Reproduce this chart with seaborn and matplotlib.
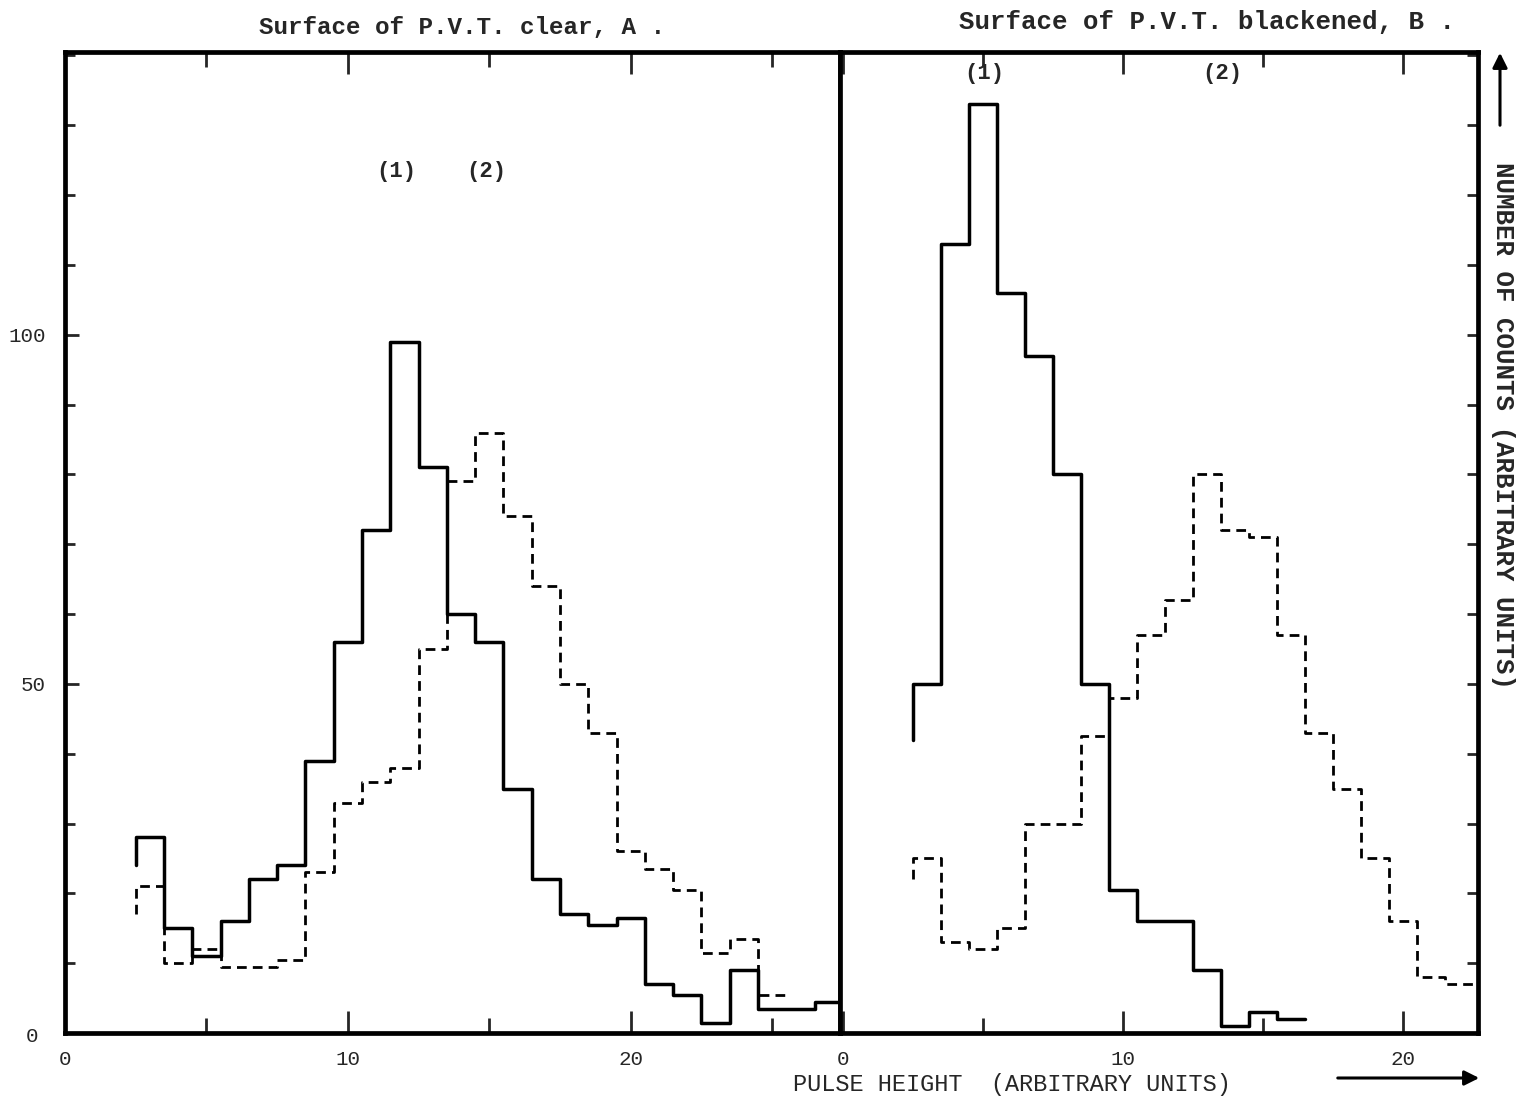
import numpy as np
import pandas as pd
import matplotlib
matplotlib.use("Agg")
import matplotlib.pyplot as plt
from matplotlib.ticker import MultipleLocator, FixedLocator
import seaborn as sns

# ---- pulse-height spectra (counts per unit bin, bins centred on integers) ----
clear_bins_1 = list(range(3, 28))
clear_counts_1 = [28, 15, 11, 16, 22, 24, 39, 56, 72, 99, 81, 60, 56, 35, 22,
                  17, 15.5, 16.5, 7, 5.5, 1.5, 9, 3.5, 3.5, 4.5]
clear_bins_2 = list(range(3, 26))
clear_counts_2 = [21, 10, 12, 9.5, 9.5, 10.5, 23, 33, 36, 38, 55, 79, 86, 74,
                  64, 50, 43, 26, 23.5, 20.5, 11.5, 13.5, 5.5]

black_bins_1 = list(range(3, 17))
black_counts_1 = [50, 113, 133, 106, 97, 80, 50, 20.5, 16, 16, 9, 1, 3, 2]
black_bins_2 = list(range(3, 23))
black_counts_2 = [25, 13, 12, 15, 30, 30, 42.5, 48, 57, 62, 80, 72, 71, 57,
                  43, 35, 25, 16, 8, 7]

# level at which each trace begins (short rise at the first bin edge)
clear_start_1, clear_start_2 = 24, 17
black_start_1, black_start_2 = 42, 22

x_tick_labels = ["0", "10", "20"]
y_tick_labels = ["0", "50", "100"]

W, H = 1523, 1107
sns.set_style("white")
plt.rcParams["font.family"] = ["Liberation Mono", "DejaVu Sans Mono"]
mono = ["Liberation Mono", "DejaVu Sans Mono"]


def fx(px):
    return px / W


def fy(py):
    return 1 - py / H


def step_frame(bins, counts, start):
    edges = [b - 0.5 for b in bins] + [bins[-1] + 0.5]
    xs = [edges[0]] + edges
    ys = [start] + list(counts) + [counts[-1]]
    return pd.DataFrame({"pulse": xs, "counts": ys})


fig = plt.figure(figsize=(W / 100, H / 100), dpi=100)
y0, y1 = 1033, 52
ax_a = fig.add_axes([fx(65), fy(y0), fx(840) - fx(65), fy(y1) - fy(y0)])
ax_b = fig.add_axes([fx(840), fy(y0), fx(1478) - fx(840), fy(y1) - fy(y0)])

ymax = 140.5
for ax, b1, c1, s1, b2, c2, s2 in [
    (ax_a, clear_bins_1, clear_counts_1, clear_start_1,
     clear_bins_2, clear_counts_2, clear_start_2),
    (ax_b, black_bins_1, black_counts_1, black_start_1,
     black_bins_2, black_counts_2, black_start_2),
]:
    sns.lineplot(data=step_frame(b2, c2, s2), x="pulse", y="counts", ax=ax,
                 estimator=None, sort=False, drawstyle="steps-post",
                 color="black", linewidth=2.0, linestyle=(0, (3.5, 2.2)))
    sns.lineplot(data=step_frame(b1, c1, s1), x="pulse", y="counts", ax=ax,
                 estimator=None, sort=False, drawstyle="steps-post",
                 color="black", linewidth=2.5)
    ax.set_ylim(0, ymax)
    ax.set_xlabel("")
    ax.set_ylabel("")
    for sp in ax.spines.values():
        sp.set_linewidth(3.4)
        sp.set_color("black")
    ax.xaxis.set_major_locator(FixedLocator([0, 10, 20]))
    ax.xaxis.set_minor_locator(FixedLocator([5, 15, 25]))
    ax.tick_params(axis="x", which="major", direction="in", length=16, width=2,
                   top=True, bottom=True, pad=12, labelsize=15)
    ax.tick_params(axis="x", which="minor", direction="in", length=11, width=2,
                   top=True, bottom=True)

ax_a.set_xlim(0, 27.4)
ax_b.set_xlim(-0.1, 22.68)
ax_a.set_xticklabels(x_tick_labels)
ax_b.set_xticklabels(x_tick_labels)

# count scale on the left, plain ticks on the right
ax_a.yaxis.set_major_locator(FixedLocator([0, 50, 100]))
ax_a.yaxis.set_minor_locator(MultipleLocator(10))
ax_a.set_yticklabels(["", y_tick_labels[1], y_tick_labels[2]])
ax_a.tick_params(axis="y", which="major", direction="in", length=10, width=2,
                 left=True, right=False, pad=14, labelsize=15)
ax_a.tick_params(axis="y", which="minor", direction="in", length=7, width=2,
                 left=True, right=False)
ax_b.yaxis.set_major_locator(MultipleLocator(10))
ax_b.yaxis.set_minor_locator(MultipleLocator(10))
ax_b.tick_params(axis="y", which="both", direction="in", length=8, width=2,
                 left=False, right=True, labelleft=False, labelright=False)
fig.text(fx(32), fy(1037), y_tick_labels[0], ha="center", va="center",
         fontsize=15, family=mono)

# headings and curve labels
fig.text(fx(462), fy(27), "Surface of P.V.T. clear, A .", ha="center",
         va="center", fontsize=17.5, family=mono, fontweight="bold")
fig.text(fx(1207), fy(22), "Surface of P.V.T. blackened, B .", ha="center",
         va="center", fontsize=18.5, family=mono, fontweight="bold")
for px, py, s in [(396, 172, "(1)"), (486, 172, "(2)"),
                  (984, 73, "(1)"), (1222, 73, "(2)")]:
    fig.text(fx(px), fy(py), s, ha="center", va="center", fontsize=16,
             family=mono, fontweight="bold")

# axis titles with arrows
fig.text(fx(1012), fy(1085), "PULSE HEIGHT  (ARBITRARY UNITS)", ha="center",
         va="center", fontsize=17, family=mono)
fig.text(fx(1503), fy(425), "NUMBER OF COUNTS (ARBITRARY UNITS)", ha="center",
         va="center", fontsize=18.5, family=mono, fontweight="bold",
         rotation=-90)
arrow = dict(arrowstyle="-|>", color="black", lw=2.2, mutation_scale=22)
fig.add_artist(matplotlib.patches.FancyArrowPatch(
    (fx(1335), fy(1078)), (fx(1482), fy(1078)), transform=fig.transFigure,
    **arrow))
fig.add_artist(matplotlib.patches.FancyArrowPatch(
    (fx(1500), fy(128)), (fx(1500), fy(50)), transform=fig.transFigure,
    **arrow))

fig.savefig("out.png", dpi=100, facecolor="white")
